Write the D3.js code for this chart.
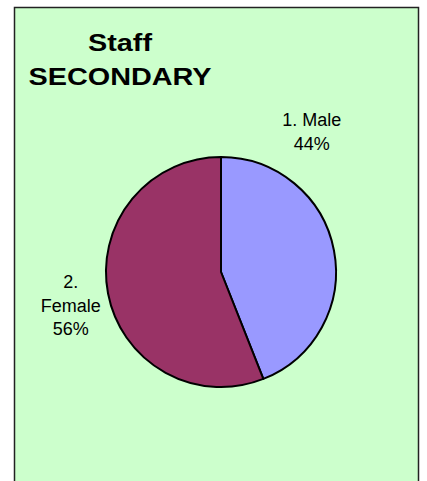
<!DOCTYPE html>
<html>
<head>
<meta charset="utf-8">
<script src="https://cdn.jsdelivr.net/npm/d3@7"></script>
<style>
  body { margin: 0; background: #fff; }
  text { font-family: Arial, "Liberation Sans", sans-serif; fill: #000; }
</style>
</head>
<body>
<script>
var width = 427,
    height = 481;

// chart data
var categories = ["1. Male", "2. Female"];
var values = [44, 56];
var colors = ["#9999FF", "#993366"];
var titleLines = ["Staff", "SECONDARY"];

var cx = 221, cy = 272, radius = 115;

var svg = d3.select("body").append("svg")
    .attr("width", width)
    .attr("height", height);

// chart area background + border (runs off the bottom edge)
svg.append("rect")
    .attr("x", 14.5)
    .attr("y", 7.5)
    .attr("width", 404)
    .attr("height", 490)
    .attr("fill", "#CCFFCC")
    .attr("stroke", "#222")
    .attr("stroke-width", 1.5);

// title - the original is a bit stretched sideways
svg.append("g")
    .attr("transform", "translate(120,0) scale(1.2,1)")
    .selectAll("text")
    .data(titleLines)
    .enter()
    .append("text")
    .attr("x", 0)
    .attr("y", (d, i) => 51 + i * 34)
    .attr("text-anchor", "middle")
    .style("font-size", "24px")
    .style("font-weight", "bold")
    .text(d => d);

var pie = d3.pie().sort(null).value(d => d);
var arc = d3.arc().innerRadius(0).outerRadius(radius);

var arcs = pie(values);

var g = svg.append("g")
    .attr("transform", "translate(" + cx + "," + cy + ")");

g.selectAll("path")
    .data(arcs)
    .enter()
    .append("path")
    .attr("d", arc)
    .attr("fill", (d, i) => colors[i])
    .attr("stroke", "#000")
    .attr("stroke-width", 2)
    .attr("stroke-linejoin", "round");

// data labels - Excel puts them outside, roughly on these angles / radii
var labelAt = [{ang: 0.575, r: 167}, {ang: 4.49, r: 154}];
var total = d3.sum(values);
var labelLines = arcs.map(function (d, i) {
    var pct = Math.round(d.data / total * 100) + "%";
    var name = categories[i];
    // the long female label wraps after the number
    return i == 1 ? name.split(" ").concat([pct]) : [name, pct];
});

labelLines.forEach(function (lines, i) {
    var a = labelAt[i].ang, r = labelAt[i].r;
    var x = Math.sin(a) * r, y = -Math.cos(a) * r;
    var t = g.append("text")
        .attr("text-anchor", "middle")
        .style("font-size", "18px");
    lines.forEach(function (s, j) {
        t.append("tspan")
            .attr("x", x)
            .attr("y", y + (j - (lines.length - 1) / 2) * 23.5 + 6)
            .text(s);
    });
});
</script>
</body>
</html>
